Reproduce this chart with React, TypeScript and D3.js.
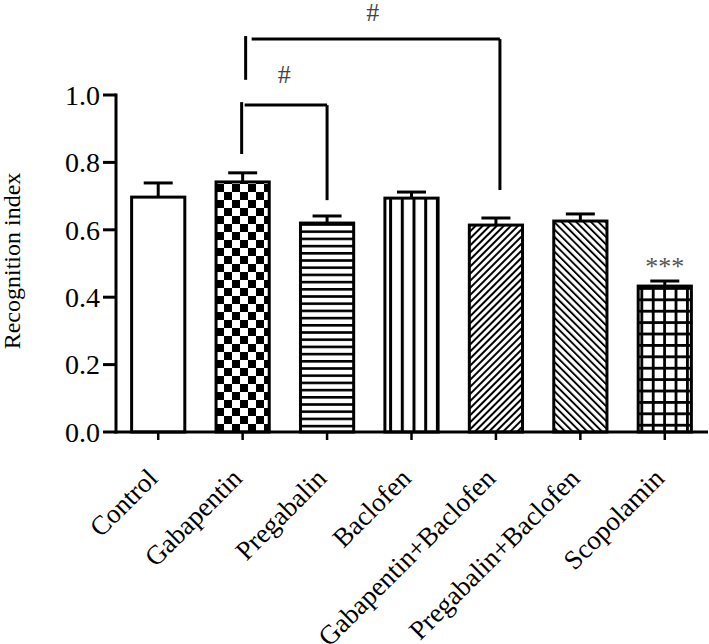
import React from "react";
import * as d3 from "d3";

const categories = [
  "Control",
  "Gabapentin",
  "Pregabalin",
  "Baclofen",
  "Gabapentin+Baclofen",
  "Pregabalin+Baclofen",
  "Scopolamin",
];
const means = [0.697, 0.742, 0.62, 0.694, 0.614, 0.626, 0.433];
const errors = [0.042, 0.027, 0.021, 0.018, 0.021, 0.021, 0.015];
const yTicks = [0, 0.2, 0.4, 0.6, 0.8, 1.0];
const patternIds = ["none", "checker", "hlines", "vlines", "diagUp", "diagDown", "grid"];
const brackets = [
  { from: 1, to: 2, top: 0.97, leftBottom: 0.825, rightBottom: 0.688, label: "#" },
  { from: 1, to: 4, top: 1.166, leftBottom: 1.045, rightBottom: 0.718, label: "#" },
];
const stars = [{ index: 6, label: "***" }];

const W = 709;
const H = 644;
const FONT = "'Liberation Serif', 'Times New Roman', serif";

export default function App() {
  const x = d3
    .scaleBand<string>()
    .domain(categories)
    .range([116, 707])
    .paddingInner(0.37)
    .paddingOuter(0.185);
  const y = d3.scaleLinear().domain([0, 1]).range([432, 95]);
  const bw = x.bandwidth();
  const cx = (i: number) => (x(categories[i]) as number) + bw / 2;

  return (
    <svg
      width={W}
      height={H}
      style={{ position: "absolute", left: 0, top: 0, background: "#fff" }}
      fontFamily={FONT}
    >
      <defs>
        <pattern id="checker" patternUnits="userSpaceOnUse" width={16} height={16}>
          <rect width={16} height={16} fill="#fff" />
          <rect x={0} y={0} width={8} height={8} fill="#000" />
          <rect x={8} y={8} width={8} height={8} fill="#000" />
        </pattern>
        <pattern id="hlines" patternUnits="userSpaceOnUse" width={10} height={7.2}>
          <rect width={10} height={7.2} fill="#fff" />
          <rect x={0} y={0} width={10} height={2.6} fill="#000" />
        </pattern>
        <pattern id="vlines" patternUnits="userSpaceOnUse" width={11.7} height={10} x={3}>
          <rect width={11.7} height={10} fill="#fff" />
          <rect x={0} y={0} width={3} height={10} fill="#000" />
        </pattern>
        <pattern
          id="diagUp"
          patternUnits="userSpaceOnUse"
          width={5}
          height={5}
          patternTransform="rotate(45)"
        >
          <rect width={5} height={5} fill="#fff" />
          <rect x={0} y={0} width={2} height={5} fill="#000" />
        </pattern>
        <pattern
          id="diagDown"
          patternUnits="userSpaceOnUse"
          width={5.2}
          height={5.2}
          patternTransform="rotate(-45)"
        >
          <rect width={5.2} height={5.2} fill="#fff" />
          <rect x={0} y={0} width={1.9} height={5.2} fill="#000" />
        </pattern>
        <pattern id="grid" patternUnits="userSpaceOnUse" width={11.4} height={11.4} x={2} y={2}>
          <rect width={11.4} height={11.4} fill="#fff" />
          <rect x={0} y={0} width={11.4} height={2.8} fill="#000" />
          <rect x={0} y={0} width={2.8} height={11.4} fill="#000" />
        </pattern>
      </defs>

      {/* Bars */}
      {categories.map((c, i) => {
        const x0 = x(c) as number;
        const top = y(means[i]);
        const pid = patternIds[i];
        return (
          <rect
            key={c}
            x={x0}
            y={top}
            width={bw}
            height={y(0) - top}
            fill={pid === "none" ? "#fff" : `url(#${pid})`}
            stroke="#000"
            strokeWidth={3}
          />
        );
      })}

      {/* Error bars */}
      {categories.map((c, i) => {
        const xc = cx(i);
        const top = y(means[i]);
        const e = y(means[i] + errors[i]);
        return (
          <g key={c + "-err"} stroke="#000" strokeWidth={3}>
            <line x1={xc} x2={xc} y1={top} y2={e} />
            <line x1={xc - 14.5} x2={xc + 14.5} y1={e} y2={e} />
          </g>
        );
      })}

      {/* Y axis */}
      <line x1={116} x2={116} y1={y(1) - 1.5} y2={y(0) + 1.5} stroke="#000" strokeWidth={3} />
      {yTicks.map((t) => (
        <g key={t}>
          <line x1={103} x2={116} y1={y(t)} y2={y(t)} stroke="#000" strokeWidth={3} />
          <text
            x={100}
            y={y(t)}
            dy="0.35em"
            textAnchor="end"
            fontSize={28}
            fill="#000"
          >
            {d3.format(".1f")(t)}
          </text>
        </g>
      ))}
      <text
        transform={`translate(20,261) rotate(-90)`}
        textAnchor="middle"
        fontSize={24}
        fill="#000"
      >
        Recognition index
      </text>

      {/* X axis */}
      <line x1={114.5} x2={708} y1={y(0)} y2={y(0)} stroke="#000" strokeWidth={3} />
      {categories.map((c, i) => (
        <g key={c + "-tick"}>
          <line x1={cx(i)} x2={cx(i)} y1={y(0)} y2={y(0) + 8} stroke="#000" strokeWidth={2.5} />
          <text
            transform={`translate(${cx(i) + 1},480) rotate(-45)`}
            textAnchor="end"
            fontSize={27}
            fill="#000"
          >
            {c}
          </text>
        </g>
      ))}

      {/* Significance brackets */}
      {brackets.map((b, k) => {
        const xl = cx(b.from);
        const xr = cx(b.to) + (k === 1 ? 4 : 0);
        const yt = y(b.top);
        const xlv = xl + (k === 1 ? 3 : -1);
        return (
          <g key={"br" + k} stroke="#000" strokeWidth={3} fill="none">
            <line x1={xlv} x2={xlv} y1={yt - 3} y2={y(b.leftBottom)} />
            <line x1={xlv + (k === 1 ? 6 : 3)} x2={xr} y1={yt} y2={yt} />
            <line x1={xr} x2={xr} y1={yt} y2={y(b.rightBottom)} />
            <text
              x={(xlv + xr) / 2}
              y={yt - (k === 1 ? 18 : 22)}
              textAnchor="middle"
              fontSize={26}
              fill="#444"
              stroke="none"
            >
              {b.label}
            </text>
          </g>
        );
      })}

      {/* Stars */}
      {stars.map((s) => (
        <text
          key={"st" + s.index}
          x={cx(s.index)}
          y={y(means[s.index] + errors[s.index]) - 6}
          textAnchor="middle"
          fontSize={26}
          fill="#555"
        >
          {s.label}
        </text>
      ))}
    </svg>
  );
}
